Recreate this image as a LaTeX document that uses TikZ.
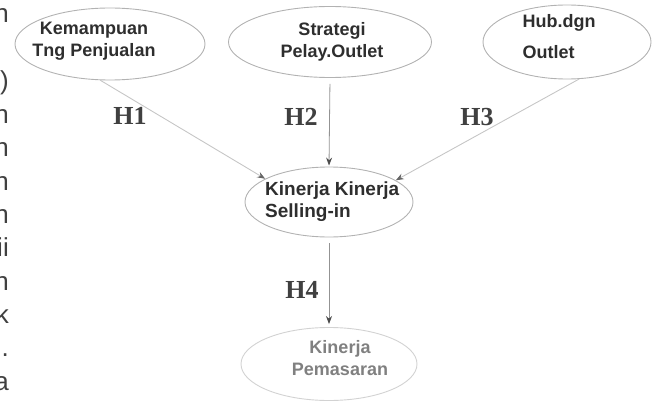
\documentclass[tikz,border=0pt]{standalone}
\usepackage{fontspec}
\setmainfont{Liberation Sans}
\newfontfamily\serifb{Liberation Serif}
\usetikzlibrary{shapes.geometric,arrows.meta}
\begin{document}
\begin{tikzpicture}[x=1pt,y=-1pt,
  ell/.style={ellipse, draw=gray!60, line width=0.9pt, inner sep=0pt},
  faint/.style={ellipse, draw=gray!35, line width=0.9pt, inner sep=0pt},
  lbl/.style={font=\fontsize{18}{22}\selectfont\bfseries, text=black!82, inner sep=0pt},
  hyp/.style={font=\serifb\fontsize{26}{26}\selectfont\bfseries, text=black!75, inner sep=0pt},
  frag/.style={font=\fontsize{26}{26}\selectfont, text=black!75, anchor=base east, inner sep=0pt},
  link/.style={draw=gray!85, line width=0.8pt, -{Stealth[length=8pt,width=6pt,color=black!70]}},
  lightlink/.style={draw=gray!45, line width=0.9pt, -{Stealth[length=8pt,width=6pt,color=black!60]}},
]
\useasboundingbox (0,0) rectangle (652,401);
\clip (0,0) rectangle (652,401);

% cut-off text fragments at the left edge
\node[frag] (f1)  at (9,23)  {n};
\node[frag] (f2)  at (9,90)  {)};
\node[frag] (f3)  at (9,123) {n};
\node[frag] (f4)  at (9,156) {n};
\node[frag] (f5)  at (9,190) {n};
\node[frag] (f6)  at (9,223) {n};
\node[frag] (f7)  at (9,256) {ii};
\node[frag] (f8)  at (9,290) {n};
\node[frag] (f9)  at (9,323) {k};
\node[frag] (f10) at (9,356) {.};
\node[frag] (f11) at (9,390) {a};

% ellipses
\node[ell, minimum width=190pt, minimum height=72pt] (e1) at (110,44) {};
\node[ell, minimum width=203pt, minimum height=71pt] (e2) at (330,42) {};
\node[ell, minimum width=168pt, minimum height=74pt] (e3) at (567,42) {};
\node[ell, minimum width=168pt, minimum height=70pt] (e4) at (329,202) {};
\node[faint, minimum width=176pt, minimum height=73pt] (e5) at (329,364) {};

% texts
\node[lbl, align=center] (t1) at (94,41.5) {Kemampuan\\Tng Penjualan};
\node[lbl, align=center] (t2) at (332,41.5) {Strategi\\Pelay.Outlet};
\node[lbl, align=left, font=\fontsize{18}{31}\selectfont\bfseries] (t3) at (559,37) {Hub.dgn\\Outlet};
\node[lbl, align=left, anchor=west, font=\fontsize{19}{22}\selectfont\bfseries] (t4) at (265,202) {Kinerja Kinerja\\Selling-in};
\node[lbl, align=center, text=black!50] (t5) at (340,358) {Kinerja\\Pemasaran};

% connectors
\draw[lightlink] (e1.-105) -- (e4.160);
\draw[link, shorten <=6pt, shorten >=1pt] (e2.south) -- (e4.north);
\draw[lightlink] (e3.-72) -- (e4.18);
\draw[link, shorten <=6pt, shorten >=3pt] (e4.south) -- (e5.north);

% hypothesis labels
\node[hyp] (h1) at (130,116) {H1};
\node[hyp] (h2) at (301,117) {H2};
\node[hyp] (h3) at (477,117) {H3};
\node[hyp] (h4) at (302,290) {H4};
\end{tikzpicture}
\end{document}
